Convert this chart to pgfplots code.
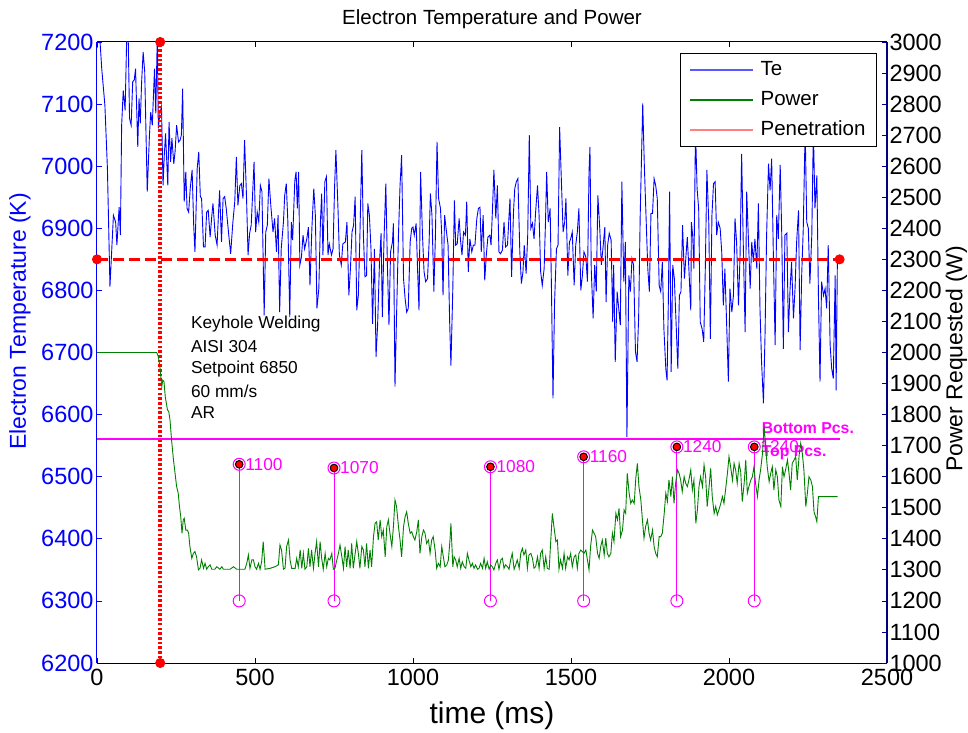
\documentclass[border=0pt]{standalone}
\usepackage{fontspec}
\setmainfont{Liberation Sans}
\usepackage{pgfplots}
\pgfplotsset{compat=1.18}
\definecolor{navy}{RGB}{0,0,128}
\definecolor{mgreen}{RGB}{0,128,0}
\definecolor{mmag}{RGB}{255,0,255}
\newcommand{\tickfont}{\fontsize{23.5}{27}\selectfont}
\newcommand{\labfont}{\fontsize{23}{27}\selectfont}
\newcommand{\notefont}{\fontsize{17.3}{20}\selectfont}
\begin{document}
\begin{tikzpicture}
\useasboundingbox (-97pt,-69pt) rectangle (871pt,663pt);
% left axis: electron temperature
\begin{axis}[
 at={(0,0)}, anchor=south west,
 width=790pt, height=621pt, scale only axis,
 xmin=0, xmax=2500, ymin=6200, ymax=7200,
 xtick={0,500,...,2500}, ytick={6200,6300,...,7200},
 axis x line=box, axis y line*=left,
 x axis line style={-, line width=1pt},
 y axis line style={-, blue, line width=1pt},
 tick align=inside, major tick length=5pt,
 x tick style={black, line width=0.8pt}, y tick style={blue, line width=0.8pt},
 /pgf/number format/assume math mode=true, /pgf/number format/1000 sep={},
 scaled ticks=false,
 tick label style={font=\tickfont},
 yticklabel style={blue},
 xticklabel style={yshift=-3pt},
 title={Electron Temperature and Power},
 title style={at={(axis description cs:0.5,1)}, anchor=base, yshift=11pt, font=\fontsize{20.5}{24}\selectfont},
 xlabel={time (ms)},
 xlabel style={at={(axis description cs:0.5,0)}, anchor=base, yshift=-60pt, font=\fontsize{30}{35}\selectfont},
 ylabel={Electron Temperature (K)},
 ylabel style={at={(axis description cs:-0.0975,0.55)}, anchor=center, blue, font=\labfont},
]
\addplot[blue, line width=0.9pt] coordinates {
(0,7190)(6,7230)(15,7157)(25,7098)(33,6996)(41,6806)(52,6921)(59,6910)(63,6873)(70,6934)
(74,6889)(78,7066)(83,7122)(89,7090)(95,7230)(99,7200)(103,7077)(108,7066)(113,7136)(118,7139)
(122,7157)(129,7031)(133,7109)(137,7069)(141,7133)(146,7184)(151,7152)(155,7055)(159,6959)(166,7050)
(170,7087)(175,7066)(182,7157)(186,7085)(191,7215)(194,7061)(199,7085)(204,7096)(209,6969)(213,7018)
(217,7053)(224,6969)(228,7071)(233,7007)(237,7045)(243,7004)(247,7023)(252,7066)(258,7039)(263,7042)
(267,7050)(271,7125)(276,6943)(281,6991)(285,6932)(290,6926)(295,6964)(301,6994)(306,6905)(310,6862)
(317,6996)(322,7023)(327,6951)(331,6948)(337,6870)(342,6870)(347,6926)(352,6929)(358,6886)(363,6918)
(367,6940)(374,6889)(380,6873)(385,6929)(388,6961)(394,6878)(399,6948)(404,6951)(409,6932)(417,6889)
(423,6859)(430,6910)(436,6943)(441,7015)(446,6937)(452,6969)(457,6972)(462,6948)(467,7042)(473,6953)
(478,6857)(483,6892)(488,6905)(497,7007)(502,6894)(507,6926)(512,6910)(517,6969)(522,6959)(529,6760)
(534,6894)(539,6905)(544,6980)(550,6937)(557,6894)(562,6916)(568,6862)(573,6921)(578,6765)(583,6867)
(590,6910)(594,6953)(599,6972)(604,6910)(610,6757)(615,6910)(619,6881)(626,6977)(630,6991)(634,6932)
(638,6991)(642,6841)(647,6854)(652,6889)(657,6867)(664,6883)(669,6902)(674,6808)(680,6900)(686,6964)
(691,6921)(696,6771)(702,6803)(707,6910)(711,6956)(715,6857)(721,6975)(726,6983)(731,6857)(735,6875)
(742,6857)(747,6867)(752,6969)(756,7026)(763,6926)(767,6857)(773,6841)(778,6875)(786,6878)(791,6910)
(797,6792)(802,6835)(807,6894)(812,6905)(817,6951)(822,6768)(827,6792)(832,6889)(838,7026)(843,6889)
(848,6822)(853,6824)(857,6940)(862,6921)(867,6867)(872,6746)(878,6867)(883,6693)(888,6744)(894,6846)
(899,6892)(903,6757)(908,6878)(914,6972)(919,6841)(924,6744)(929,6862)(935,6878)(938,6908)(943,6645)
(948,6760)(954,6889)(959,6969)(964,7018)(970,6819)(975,6787)(980,6765)(985,6771)(991,6878)(996,6900)
(1000,6902)(1004,6889)(1010,6908)(1014,6841)(1019,6768)(1024,6991)(1030,6889)(1035,6830)(1040,6814)(1046,6819)
(1051,6878)(1055,6956)(1060,6921)(1066,6798)(1071,6889)(1076,7039)(1081,6948)(1087,6932)(1091,6889)(1095,6792)
(1100,6921)(1106,6894)(1111,6873)(1116,6749)(1120,6679)(1126,6803)(1131,6945)(1135,6873)(1140,6875)(1146,6916)
(1150,6883)(1155,6857)(1160,6894)(1166,6889)(1170,6943)(1175,6830)(1180,6883)(1186,6862)(1191,6873)(1196,6873)
(1202,6916)(1207,6932)(1212,6934)(1216,6862)(1222,6921)(1227,6816)(1232,6857)(1237,6886)(1243,6889)(1247,6873)
(1252,6937)(1256,6994)(1262,6916)(1267,6969)(1272,6862)(1277,6859)(1283,6865)(1288,6910)(1293,6870)(1299,6873)
(1304,6921)(1307,6948)(1312,6822)(1318,6926)(1322,6964)(1327,6975)(1332,6980)(1338,6862)(1343,6811)(1348,6830)
(1352,6873)(1358,6827)(1363,6889)(1368,7050)(1373,6900)(1378,6908)(1383,6883)(1388,6926)(1394,6969)(1399,6921)
(1404,6830)(1409,6808)(1415,6835)(1419,6905)(1423,6991)(1428,6910)(1434,6932)(1438,6808)(1443,6626)(1448,6781)
(1454,6867)(1459,6873)(1464,7063)(1469,6985)(1475,6894)(1480,6910)(1484,6948)(1490,6824)(1495,6878)(1499,6883)
(1504,6894)(1510,6808)(1515,6873)(1520,6894)(1525,6932)(1531,6800)(1536,6824)(1541,6862)(1547,6854)(1552,6814)
(1557,6991)(1560,7031)(1564,6835)(1570,6755)(1575,6841)(1580,6798)(1585,6953)(1591,6900)(1596,6841)(1601,6867)
(1607,6902)(1611,6781)(1616,6873)(1621,6892)(1627,6881)(1632,6749)(1635,6841)(1640,6685)(1646,6798)(1651,6771)
(1656,6744)(1661,6975)(1667,6814)(1672,6878)(1677,6564)(1683,6824)(1688,6798)(1693,6851)(1698,6841)(1704,6701)
(1709,6685)(1714,6755)(1719,6921)(1727,7101)(1732,7002)(1737,6926)(1743,6835)(1748,6798)(1753,6924)(1758,6924)
(1763,6980)(1768,6969)(1773,6948)(1779,6808)(1784,6798)(1789,6846)(1794,6738)(1800,6674)(1804,6655)(1808,6781)
(1812,6959)(1817,6669)(1822,6841)(1827,6819)(1832,6755)(1838,6674)(1843,6792)(1848,6798)(1853,6905)(1859,6819)
(1864,6857)(1868,6886)(1873,6835)(1879,6768)(1881,6910)(1885,6889)(1889,6835)(1894,7060)(1899,6964)(1904,6932)
(1909,6749)(1915,6738)(1920,6717)(1925,6835)(1930,6994)(1936,6910)(1941,6722)(1946,6921)(1951,6972)(1956,6975)
(1961,6889)(1966,6910)(1972,6900)(1977,6862)(1982,6776)(1987,6835)(1993,6738)(1998,6653)(2003,6803)(2009,6765)
(2014,6792)(2019,6916)(2024,6878)(2030,6776)(2035,6857)(2040,7020)(2045,6878)(2051,6733)(2056,6959)(2061,6889)
(2067,6803)(2072,6878)(2077,6846)(2082,6883)(2088,6835)(2093,6940)(2098,6771)(2103,6685)(2109,6618)(2114,6728)
(2119,6889)(2125,7004)(2130,6961)(2135,7012)(2140,6867)(2146,6712)(2151,6921)(2156,6883)(2162,7002)(2167,6889)
(2172,6706)(2177,6889)(2183,6892)(2188,6733)(2193,6800)(2198,6846)(2204,6755)(2209,6803)(2214,6878)(2220,6929)
(2225,6704)(2230,6824)(2235,6900)(2241,7060)(2246,6910)(2251,6900)(2256,6811)(2262,6889)(2267,7060)(2272,6932)
(2278,6985)(2283,6792)(2288,6653)(2293,6814)(2299,6792)(2304,6803)(2309,6771)(2314,6873)(2320,6712)(2325,6674)
(2330,6658)(2336,6824)(2339,6639)(2343,6851)};
% penetration reference lines
\addplot[red, line width=3.5pt, dash pattern=on 2.6pt off 2.1pt, mark=*, mark size=4.5pt, mark options={solid, line width=1pt}] coordinates {(200,6200) (200,7200)};
\addplot[red, line width=2.5pt, dash pattern=on 11pt off 5pt, mark=*, mark size=4.5pt, mark options={solid, line width=1pt}] coordinates {(0,6850) (2350,6850)};
\addplot[mmag, line width=2pt] coordinates {(0,6560) (2350,6560)};
% penetration stems
\addplot[mmag, line width=1pt] coordinates {(450,6300) (450,6520)};
\addplot[mmag, line width=1pt] coordinates {(750,6300) (750,6514)};
\addplot[mmag, line width=1pt] coordinates {(1245,6300) (1245,6516)};
\addplot[mmag, line width=1pt] coordinates {(1540,6300) (1540,6532)};
\addplot[mmag, line width=1pt] coordinates {(1835,6300) (1835,6548)};
\addplot[mmag, line width=1pt] coordinates {(2080,6300) (2080,6548)};
\addplot[only marks, mark=o, mark size=6pt, mmag, line width=1pt] coordinates {
 (450,6300) (750,6300) (1245,6300) (1540,6300) (1835,6300) (2080,6300)
 (450,6520) (750,6514) (1245,6516) (1540,6532) (1835,6548) (2080,6548)};
\addplot[only marks, mark=*, mark size=3.8pt, mark options={fill=red, draw=black, line width=1pt}] coordinates {
 (450,6520) (750,6514) (1245,6516) (1540,6532) (1835,6548) (2080,6548)};
\node[anchor=west, text=mmag, font=\notefont, inner sep=0pt, xshift=6pt] at (axis cs:450,6520) {1100};
\node[anchor=west, text=mmag, font=\notefont, inner sep=0pt, xshift=6pt] at (axis cs:750,6514) {1070};
\node[anchor=west, text=mmag, font=\notefont, inner sep=0pt, xshift=6pt] at (axis cs:1245,6516) {1080};
\node[anchor=west, text=mmag, font=\notefont, inner sep=0pt, xshift=6pt] at (axis cs:1540,6532) {1160};
\node[anchor=west, text=mmag, font=\notefont, inner sep=0pt, xshift=6pt] at (axis cs:1835,6548) {1240};
\node[anchor=west, text=mmag, font=\notefont, inner sep=0pt, xshift=6pt] at (axis cs:2080,6548) {1240};
\node[anchor=west, text=mmag, font=\fontsize{15.8}{18}\selectfont\bfseries, inner sep=0pt] at (axis cs:2103,6578) {Bottom Pcs.};
\node[anchor=west, text=mmag, font=\fontsize{15.8}{18}\selectfont\bfseries, inner sep=0pt] at (axis cs:2103,6538) {Top Pcs.};
% process notes
\node[anchor=west, font=\notefont, inner sep=0pt] at (axis cs:297,6746) {Keyhole Welding};
\node[anchor=west, font=\notefont, inner sep=0pt] at (axis cs:297,6710) {AISI 304};
\node[anchor=west, font=\notefont, inner sep=0pt] at (axis cs:297,6673) {Setpoint 6850};
\node[anchor=west, font=\notefont, inner sep=0pt] at (axis cs:297,6638) {60 mm/s};
\node[anchor=west, font=\notefont, inner sep=0pt] at (axis cs:297,6603) {AR};
\end{axis}
% right axis: requested power
\begin{axis}[
 at={(0,0)}, anchor=south west,
 width=790pt, height=621pt, scale only axis,
 xmin=0, xmax=2500, ymin=1000, ymax=3000,
 ytick={1000,1100,...,3000},
 axis x line=none, axis y line*=right,
 y axis line style={-, navy, line width=1.4pt},
 tick align=inside, major tick length=5pt,
 y tick style={navy, line width=0.8pt},
 /pgf/number format/assume math mode=true, /pgf/number format/1000 sep={},
 scaled ticks=false,
 tick label style={font=\tickfont},
 yticklabel style={xshift=-1pt},
 ylabel={Power Requested (W)},
 ylabel style={at={(axis description cs:1.088,0.49)}, anchor=center, font=\labfont},
 legend style={at={(0.9873,0.9823)}, anchor=north east, draw=black, line width=1pt, fill=white,
  font=\fontsize{20.5}{24}\selectfont, inner xsep=9pt, inner ysep=5pt, row sep=7pt, column sep=5pt,
  nodes={inner sep=2pt, text height=15pt, text depth=4pt}, cells={anchor=west}},
 legend image code/.code={\draw[#1, line width=1.4pt] (0pt,0pt) -- (63pt,0pt);},
]
\addlegendimage{blue!65}
\addlegendentry{Te}
\addplot[mgreen, line width=0.9pt] coordinates {
(0,2000)(189,2000)(194,1987)(199,1954)(205,1890)(208,1911)(212,1906)(216,1858)(223,1815)(227,1810)
(231,1783)(236,1718)(242,1654)(247,1611)(252,1568)(257,1547)(261,1504)(265,1471)(269,1418)(273,1461)
(276,1466)(281,1428)(286,1428)(290,1418)(294,1375)(300,1337)(305,1353)(310,1359)(315,1342)(321,1300)
(326,1305)(331,1332)(337,1305)(342,1321)(347,1302)(352,1310)(358,1316)(363,1302)(373,1302)(379,1310)
(389,1302)(395,1310)(400,1302)(421,1302)(432,1310)(442,1302)(453,1302)(468,1302)(474,1321)(479,1348)
(484,1305)(490,1332)(495,1332)(500,1310)(505,1302)(511,1321)(516,1302)(521,1326)(526,1391)(532,1302)
(548,1305)(563,1310)(574,1316)(579,1380)(584,1364)(590,1302)(595,1305)(600,1375)(606,1396)(611,1332)
(616,1305)(627,1305)(632,1337)(637,1310)(643,1364)(648,1305)(653,1353)(658,1302)(664,1310)(669,1369)
(674,1310)(679,1364)(685,1305)(690,1353)(695,1391)(701,1310)(706,1391)(711,1337)(716,1302)(722,1353)
(727,1310)(732,1337)(737,1332)(743,1353)(748,1302)(753,1305)(759,1332)(764,1353)(769,1380)(774,1348)
(780,1305)(785,1375)(790,1310)(795,1364)(801,1305)(806,1385)(811,1305)(817,1353)(822,1391)(827,1353)
(832,1305)(838,1375)(843,1364)(848,1310)(853,1385)(859,1305)(864,1364)(869,1310)(875,1407)(880,1450)
(885,1455)(890,1396)(896,1461)(901,1407)(906,1428)(912,1342)(917,1439)(922,1461)(927,1418)(933,1375)
(938,1439)(943,1525)(948,1504)(954,1439)(959,1396)(964,1342)(970,1439)(975,1471)(980,1487)(985,1450)
(991,1418)(996,1423)(1001,1407)(1006,1396)(1012,1423)(1017,1461)(1022,1353)(1028,1407)(1033,1428)(1038,1418)
(1043,1385)(1049,1396)(1054,1353)(1059,1396)(1064,1407)(1070,1364)(1075,1305)(1080,1321)(1086,1310)(1091,1375)
(1096,1342)(1101,1310)(1107,1316)(1112,1332)(1117,1396)(1120,1450)(1126,1310)(1130,1342)(1135,1332)(1140,1310)
(1146,1337)(1151,1305)(1156,1326)(1162,1310)(1167,1305)(1172,1353)(1177,1332)(1183,1310)(1188,1321)(1193,1305)
(1198,1316)(1204,1302)(1209,1305)(1214,1321)(1220,1305)(1225,1337)(1230,1305)(1235,1326)(1241,1302)(1246,1316)
(1251,1310)(1256,1300)(1262,1321)(1267,1332)(1272,1302)(1278,1332)(1283,1337)(1288,1305)(1293,1316)(1299,1310)
(1304,1302)(1309,1332)(1314,1353)(1320,1302)(1325,1316)(1330,1332)(1336,1305)(1341,1353)(1346,1369)(1351,1348)
(1357,1364)(1362,1305)(1367,1348)(1373,1353)(1378,1337)(1383,1305)(1388,1310)(1394,1342)(1399,1305)(1404,1353)
(1409,1364)(1415,1305)(1420,1342)(1425,1305)(1431,1302)(1436,1396)(1441,1482)(1446,1439)(1452,1391)(1457,1396)
(1462,1302)(1467,1332)(1473,1305)(1478,1353)(1483,1305)(1489,1342)(1494,1332)(1499,1353)(1504,1310)(1510,1342)
(1515,1348)(1520,1305)(1525,1353)(1531,1364)(1536,1359)(1541,1353)(1547,1364)(1552,1332)(1557,1300)(1562,1375)
(1568,1428)(1573,1418)(1578,1407)(1584,1353)(1589,1337)(1594,1375)(1599,1396)(1605,1348)(1610,1402)(1615,1353)
(1620,1342)(1626,1353)(1631,1418)(1636,1391)(1642,1482)(1647,1461)(1652,1498)(1657,1407)(1663,1428)(1668,1493)
(1673,1482)(1678,1611)(1684,1547)(1689,1514)(1694,1525)(1700,1514)(1705,1595)(1710,1643)(1715,1568)(1721,1525)
(1726,1461)(1731,1402)(1736,1439)(1742,1461)(1747,1418)(1752,1396)(1758,1428)(1763,1375)(1768,1353)(1773,1342)
(1779,1407)(1784,1407)(1789,1418)(1795,1482)(1800,1547)(1805,1520)(1810,1590)(1816,1536)(1821,1600)(1826,1514)
(1831,1579)(1837,1622)(1842,1611)(1847,1589)(1852,1552)(1858,1600)(1863,1579)(1868,1568)(1873,1589)(1879,1622)
(1884,1557)(1889,1589)(1895,1450)(1900,1493)(1905,1568)(1910,1600)(1916,1568)(1921,1638)(1926,1600)(1931,1504)
(1937,1568)(1942,1627)(1947,1536)(1953,1482)(1958,1504)(1963,1477)(1968,1493)(1974,1514)(1979,1536)(1984,1514)
(1989,1557)(1995,1611)(2000,1665)(2005,1632)(2011,1589)(2016,1643)(2021,1622)(2026,1579)(2032,1643)(2037,1616)
(2042,1520)(2048,1579)(2053,1654)(2058,1547)(2063,1568)(2069,1589)(2074,1600)(2079,1632)(2084,1579)(2090,1536)
(2095,1589)(2100,1622)(2106,1675)(2111,1761)(2116,1697)(2121,1632)(2127,1584)(2132,1611)(2137,1632)(2142,1557)
(2148,1622)(2153,1600)(2158,1525)(2164,1504)(2169,1632)(2174,1600)(2179,1622)(2185,1654)(2190,1611)(2195,1557)
(2200,1643)(2206,1654)(2211,1665)(2216,1589)(2222,1670)(2227,1708)(2232,1675)(2237,1622)(2243,1504)(2248,1547)
(2253,1600)(2259,1589)(2264,1568)(2269,1487)(2274,1471)(2278,1455)(2283,1536)(2344,1536)};
\addlegendentry{Power}
\addlegendimage{red!50}
\addlegendentry{Penetration}
\end{axis}
\end{tikzpicture}
\end{document}
